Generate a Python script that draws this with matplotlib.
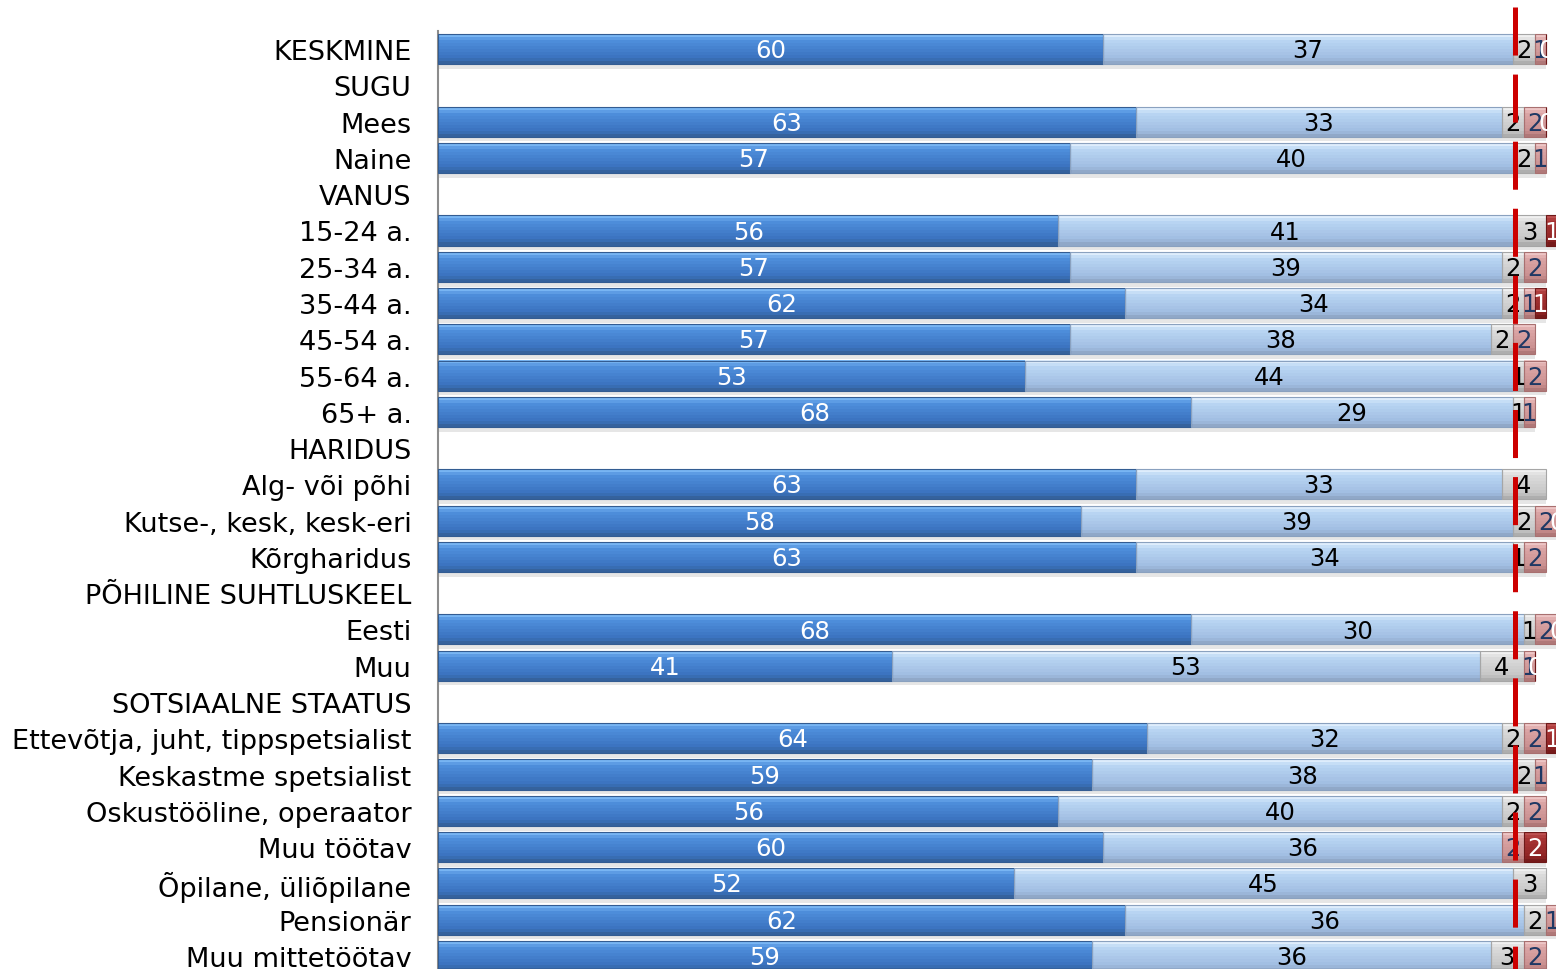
import numpy as np
import matplotlib
matplotlib.use('Agg')
import matplotlib.pyplot as plt
from matplotlib.colors import to_rgb

# rows of the chart, top to bottom; header rows have no bars
categories = ['KESKMINE', 'SUGU', 'Mees', 'Naine', 'VANUS',
              '15-24 a.', '25-34 a.', '35-44 a.', '45-54 a.', '55-64 a.', '65+ a.',
              'HARIDUS', 'Alg- või põhi', 'Kutse-, kesk, kesk-eri', 'Kõrgharidus',
              'PÕHILINE SUHTLUSKEEL', 'Eesti', 'Muu',
              'SOTSIAALNE STAATUS', 'Ettevõtja, juht, tippspetsialist', 'Keskastme spetsialist',
              'Oskustööline, operaator', 'Muu töötav', 'Õpilane, üliõpilane', 'Pensionär',
              'Muu mittetöötav']

# five answer groups (None = no segment / no label)
s1 = [60, None, 63, 57, None, 56, 57, 62, 57, 53, 68, None, 63, 58, 63, None, 68, 41, None, 64, 59, 56, 60, 52, 62, 59]
s2 = [37, None, 33, 40, None, 41, 39, 34, 38, 44, 29, None, 33, 39, 34, None, 30, 53, None, 32, 38, 40, 36, 45, 36, 36]
s3 = [2, None, 2, 2, None, 3, 2, 2, 2, 1, 1, None, 4, 2, 1, None, 1, 4, None, 2, 2, 2, None, 3, 2, 3]
s4 = [1, None, 2, 1, None, None, 2, 1, 2, 2, 1, None, None, 2, 2, None, 2, 1, None, 2, 1, 2, 2, None, 1, 2]
s5 = [0, None, 0, None, None, 1, None, 1, None, None, None, None, None, 0, None, None, 0, 0, None, 1, None, None, 2, None, None, None]
series = [s1, s2, s3, s4, s5]

# (top highlight, body top, body bottom, bottom edge)
palettes = [
    ['#86c2fb', '#4f8fdc', '#3a72be', '#335c92'],
    ['#eaf5ff', '#bad6f3', '#a0bde2', '#8aa1bf'],
    ['#f6f6f6', '#dcdcdc', '#c6c6c6', '#a6a6a6'],
    ['#f3cfcf', '#dca6a6', '#c98f8f', '#a87070'],
    ['#c45a5a', '#a83434', '#902424', '#6e1818'],
]
text_colors = ['white', 'black', 'black', '#1f3864', 'white']

plt.rcParams['font.family'] = ['DejaVu Sans']
fig = plt.figure(figsize=(15.59, 9.70), dpi=100)
ax = fig.add_axes([438 / 1559, -5 / 970, (1556 - 438) / 1559, 943 / 970])

y = np.arange(len(categories))
bar_h = 0.83
n_bands = 10


def band_colors(pal):
    stops = [to_rgb(c) for c in pal]
    pos = [0.0, 0.2, 0.8, 1.0]
    out = []
    for k in range(n_bands):
        t = (k + 0.5) / n_bands
        out.append(tuple(np.interp(t, pos, [s[i] for s in stops]) for i in range(3)))
    return out


left = np.zeros(len(categories))
for si, vals in enumerate(series):
    widths = np.array([v if v is not None else 0 for v in vals], dtype=float)
    has = np.array([v is not None for v in vals])
    # soft shadow under the bars
    ax.barh(y[has] + bar_h / 2 + 0.06, widths[has], height=0.14, left=left[has],
            color='#c8c8c8', alpha=0.45, linewidth=0, zorder=1)
    cols = band_colors(palettes[si])
    bh = bar_h / n_bands
    for k, c in enumerate(cols):
        yy = y[has] - bar_h / 2 + (k + 0.5) * bh
        ax.barh(yy, widths[has], height=bh * 1.02, left=left[has], color=c,
                linewidth=0, zorder=2)
    # thin darker outline
    ax.barh(y[has], widths[has], height=bar_h, left=left[has], fill=False,
            edgecolor=palettes[si][3], linewidth=0.8, zorder=3)
    for i in np.where(has)[0]:
        ax.text(left[i] + widths[i] / 2, y[i] + 0.03, str(vals[i]), ha='center', va='center',
                fontsize=17.5, color=text_colors[si], zorder=5, clip_on=True)
    left = left + widths

# red dashed reference line
lw = 3.6
ax.plot([97.2, 97.2], [-1.16, 26.5], color='#cc0000', lw=lw, solid_capstyle='butt',
        dashes=(34.6 / lw, 13.7 / lw), clip_on=False, zorder=6)

ax.set_xlim(0, 100.9)
ax.set_ylim(25.5, -0.5)
ax.set_yticks(y)
ax.set_yticklabels(categories, fontsize=19.5)
ax.tick_params(axis='y', length=0, pad=19)
ax.set_xticks([])
for side in ['top', 'right', 'bottom']:
    ax.spines[side].set_visible(False)
ax.spines['left'].set_color('#8c8c8c')
ax.spines['left'].set_linewidth(1.5)
ax.patch.set_alpha(0)

fig.savefig('out.png', dpi=100)
